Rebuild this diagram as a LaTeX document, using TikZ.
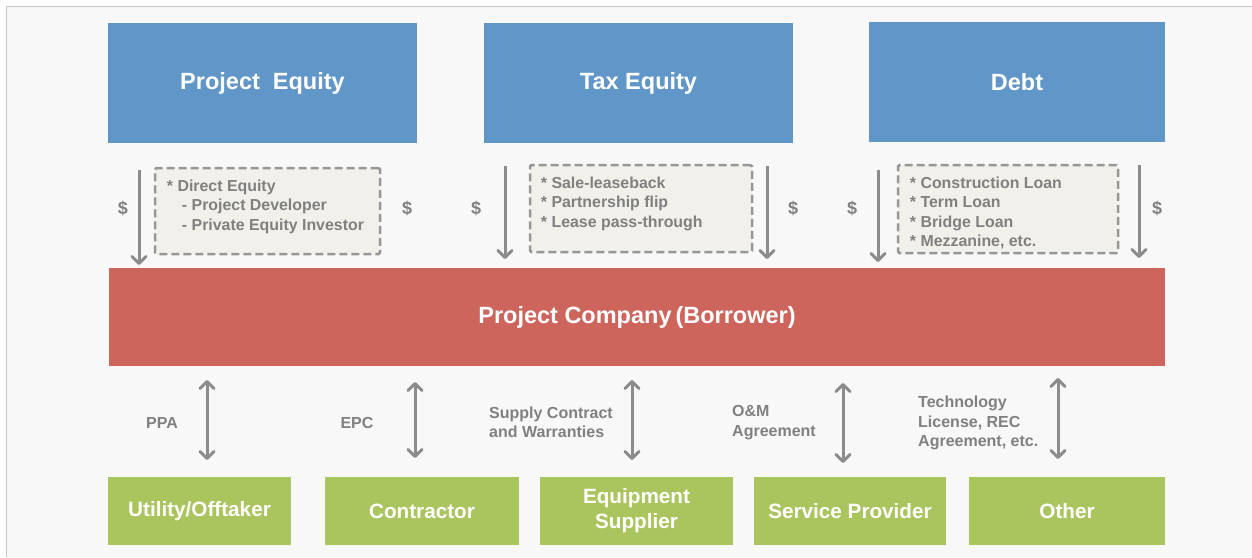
\documentclass[tikz,border=0pt]{standalone}
\usepackage{fontspec}
\setmainfont{Liberation Sans}
\usetikzlibrary{arrows.meta}

\definecolor{eqblue}{RGB}{97,151,200}
\definecolor{cored}{RGB}{206,101,92}
\definecolor{partgreen}{RGB}{170,197,94}
\definecolor{notefill}{RGB}{241,240,234}
\definecolor{arrowgrey}{RGB}{140,140,140}
\definecolor{textgrey}{RGB}{128,128,128}
\definecolor{bggrey}{RGB}{248,248,248}
\definecolor{edgegrey}{RGB}{200,200,200}

\tikzset{
	topbox/.style={fill=eqblue, text=white, inner sep=0pt, minimum height=120pt,
		font=\fontsize{23.5}{27}\selectfont\bfseries},
	companybox/.style={fill=cored, text=white, inner sep=0pt, minimum height=98pt,
		font=\fontsize{23.5}{27}\selectfont\bfseries},
	partybox/.style={fill=partgreen, text=white, inner sep=0pt, minimum height=68pt,
		align=center, font=\fontsize{20.7}{25}\selectfont\bfseries},
	notebox/.style={draw=arrowgrey!90, fill=notefill, dash pattern=on 8pt off 4pt,
		line width=2.5pt, rounded corners=1.5pt, inner sep=0pt},
	notetext/.style={anchor=north west, inner sep=0pt, align=left, text=textgrey,
		font=\fontsize{15.9}{19.5}\selectfont\bfseries},
	dollar/.style={text=textgrey, font=\fontsize{18}{20}\selectfont\bfseries},
	dealtext/.style={text=textgrey, align=left, inner sep=0pt,
		font=\fontsize{16}{19.5}\selectfont\bfseries},
	flow/.style={draw=arrowgrey, line width=3pt,
		-{Straight Barb[length=7pt,width=14pt,round]}},
	deal/.style={draw=arrowgrey, line width=3pt,
		{Straight Barb[length=7pt,width=14pt,round]}-{Straight Barb[length=7pt,width=14pt,round]}}
}

\begin{document}
\begin{tikzpicture}[x=1pt,y=-1pt]
	\useasboundingbox (0,0) rectangle (1252,557);
	% background and frame
	\fill[white] (0,0) rectangle (1252,557);
	\fill[bggrey] (7,7) rectangle (1252,557);
	\draw[edgegrey, line width=1.5pt] (6.5,557) |- (1252,6.5);

	% sources of funds
	\node[topbox, minimum width=309pt] (equity) at (262.5,83) {Project\ \ Equity};
	\node[topbox, minimum width=309pt] (taxeq) at (638.5,83) {Tax Equity};
	\node[topbox, minimum width=296pt] (debt) at (1017,82) {Debt};

	% borrower
	\node[companybox, minimum width=1056pt] (company) at (637,317) {Project Company\,(Borrower)};

	% counterparties
	\node[partybox, minimum width=183pt] (utility) at (199.5,511) {Utility/Offtaker};
	\node[partybox, minimum width=194pt] (contractor) at (422,511) {Contractor};
	\node[partybox, minimum width=193pt] (supplier) at (636.5,511) {Equipment\\Supplier};
	\node[partybox, minimum width=192pt] (service) at (850,511) {Service Provider};
	\node[partybox, minimum width=196pt] (other) at (1067,511) {Other};

	% structures
	\node[notebox, minimum width=225pt, minimum height=86pt] (directeq) at (267.5,211) {};
	\node[notetext] (directeqtext) at ([xshift=13pt,yshift=-13pt]directeq.north west)
		{* Direct Equity\\\hspace{15pt}- Project Developer\\\hspace{15pt}- Private Equity Investor};
	\node[notebox, minimum width=222pt, minimum height=87pt] (taxdeals) at (641,208.5) {};
	\node[notetext] (taxdealstext) at ([xshift=12pt,yshift=-13pt]taxdeals.north west)
		{* Sale-leaseback\\{}* Partnership flip\\{}* Lease pass-through};
	\node[notebox, minimum width=220pt, minimum height=88pt] (loans) at (1008,209) {};
	\node[notetext] (loanstext) at ([xshift=13pt,yshift=-13pt]loans.north west)
		{* Construction Loan\\{}* Term Loan\\{}* Bridge Loan\\{}* Mezzanine, etc.};

	% money flows
	\node[dollar] (d1) at (123,208) {\$};
	\node[dollar] (d2) at (407,208) {\$};
	\node[dollar] (d3) at (476,208) {\$};
	\node[dollar] (d4) at (793,208) {\$};
	\node[dollar] (d5) at (852,208) {\$};
	\node[dollar] (d6) at (1157,208) {\$};

	\coordinate (f1a) at (139,170);  \coordinate (f1b) at (139,265);
	\coordinate (f2a) at (505,166);  \coordinate (f2b) at (505,259);
	\coordinate (f3a) at (767,166);  \coordinate (f3b) at (767,259);
	\coordinate (f4a) at (878,170);  \coordinate (f4b) at (878,262);
	\coordinate (f5a) at (1139,165); \coordinate (f5b) at (1139,258);
	\foreach \i in {1,...,5}
		\draw[flow] (f\i a) -- (f\i b);

	% contracts
	\coordinate (c1a) at (207,380);  \coordinate (c1b) at (207,460);
	\coordinate (c2a) at (415,382);  \coordinate (c2b) at (415,458);
	\coordinate (c3a) at (632,380);  \coordinate (c3b) at (632,460);
	\coordinate (c4a) at (843,383);  \coordinate (c4b) at (843,463);
	\coordinate (c5a) at (1058,378); \coordinate (c5b) at (1058,459);
	\foreach \i in {1,...,5}
		\draw[deal] (c\i a) -- (c\i b);

	\node[dealtext] (ppa) at (162,423) {PPA};
	\node[dealtext] (epc) at (357,423) {EPC};
	\node[dealtext, anchor=west] (supply) at (489,422.5) {Supply Contract\\and Warranties};
	\node[dealtext, anchor=west] (om) at (732,422.5) {O\&M\\Agreement};
	\node[dealtext, anchor=west] (tech) at (918,423) {Technology\\License, REC\\Agreement, etc.};
\end{tikzpicture}
\end{document}
